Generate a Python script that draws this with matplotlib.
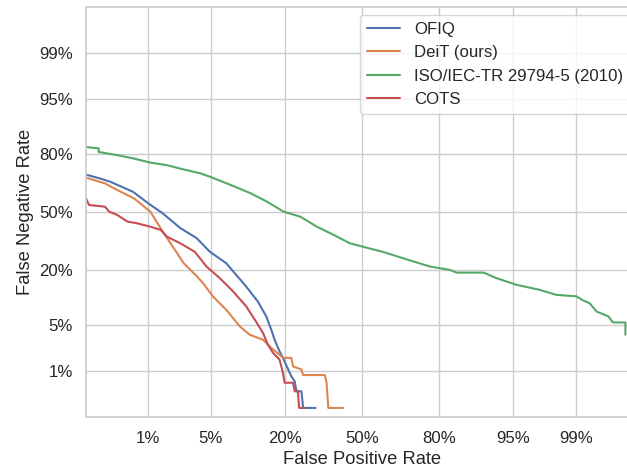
"""DET curves: OFIQ vs DeiT vs ISO/IEC-TR 29794-5 vs COTS (probit axes)."""

from statistics import NormalDist

import numpy as np
import matplotlib; matplotlib.use("Agg")
import matplotlib.pyplot as plt
import seaborn as sns

# values, in percent (FPR, FNR)
ofiq_fpr = [0.13, 0.22, 0.31, 0.64, 1.04, 1.5, 2.4, 3.6, 4.9, 7.0, 10.4, 12.9, 14.9,
            16.2, 17.1, 18.5, 19.5, 21.1, 22.1, 23.2, 23.8, 25.5, 26.1, 30.7]
ofiq_fnr = [70.9, 68.8, 67.1, 61.6, 54.6, 49.4, 40.8, 35.2, 28.1, 22.7, 13.8, 9.5, 6.35,
            4.27, 3.1, 2.09, 1.66, 1.07, 0.82, 0.67, 0.44, 0.44, 0.21, 0.21]

deit_fpr = [0.13, 0.26, 0.39, 0.66, 1.07, 1.43, 1.87, 2.63, 3.65, 4.2, 5.26, 7.0, 9.2,
            11.1, 14.1, 16.2, 18.5, 19.5, 22.1, 22.7, 25.5, 26.1, 34.3, 35.0, 35.7, 41.8]
deit_fnr = [69.4, 66.2, 62.6, 57.9, 50.2, 40.6, 32.4, 22.7, 17.3, 14.9, 10.85, 7.65, 4.73,
            3.65, 3.1, 2.35, 1.85, 1.65, 1.65, 1.2, 1.07, 0.86, 0.86, 0.63, 0.21, 0.21]

iso_fpr = [0.13, 0.21, 0.21, 0.39, 0.65, 1.07, 1.7, 2.63, 3.95, 4.97, 7.1, 11.3, 15.1,
           19.7, 25.1, 31.2, 37.9, 44.7, 50.4, 59.0, 68.5, 76.9, 82.97, 84.8, 90.7, 92.8,
           95.3, 97.3, 98.27, 99.01, 99.18, 99.33, 99.46, 99.63, 99.68, 99.79, 99.79]
iso_fnr = [82.9, 82.4, 81.0, 79.7, 78.3, 76.5, 75.3, 73.3, 71.4, 69.6, 66.2, 60.8, 56.0,
           50.2, 47.3, 41.5, 36.9, 32.4, 30.6, 28.0, 24.5, 21.3, 19.9, 18.8, 18.8, 16.7,
           14.4, 12.8, 11.3, 10.9, 9.85, 9.16, 7.3, 6.35, 5.33, 5.33, 3.65]

cots_fpr = [0.13, 0.15, 0.26, 0.30, 0.39, 0.54, 0.72, 1.07, 1.43, 1.7, 2.41, 3.45, 4.54,
            6.1, 8.05, 10.4, 12.2, 14.1, 15.3, 16.7, 18.5, 19.5, 20.0, 22.7, 23.2, 24.3,
            24.7, 26.7]
cots_fnr = [59.2, 54.1, 53.1, 50.2, 48.3, 44.4, 43.5, 41.5, 39.7, 35.9, 32.4, 28.1, 21.3,
            16.7, 12.3, 8.4, 5.77, 3.85, 2.63, 1.97, 1.55, 0.94, 0.63, 0.63, 0.44, 0.44,
            0.21, 0.21]

tick_pcts = [1, 5, 20, 50, 80, 95, 99]
tick_labels = ["1%", "5%", "20%", "50%", "80%", "95%", "99%"]

series = [
    ("OFIQ", ofiq_fpr, ofiq_fnr),
    ("DeiT (ours)", deit_fpr, deit_fnr),
    ("ISO/IEC-TR 29794-5 (2010)", iso_fpr, iso_fnr),
    ("COTS", cots_fpr, cots_fnr),
]


def probit(pcts):
    nd = NormalDist()
    return np.array([nd.inv_cdf(v / 100.0) for v in pcts])


sns.set_theme(style="whitegrid", font_scale=1.1)
plt.rcParams["font.family"] = ["Liberation Sans", "DejaVu Sans"]

fig = plt.figure(figsize=(6.27, 4.70), dpi=100)
ax = fig.add_axes([0.1372, 0.1121, 0.8804, 0.8736])

for label, fpr, fnr in series:
    ax.plot(probit(fpr), probit(fnr), label=label)

ticks = probit(tick_pcts)
ax.set_xticks(ticks)
ax.set_xticklabels(tick_labels)
ax.set_yticks(ticks)
ax.set_yticklabels(tick_labels)
ax.set_xlim(-3, 3)
ax.set_ylim(-3, 3)
ax.set_xlabel("False Positive Rate")
ax.set_ylabel("False Negative Rate")
ax.legend(loc="upper right")

fig.savefig("out.png", dpi=100)
